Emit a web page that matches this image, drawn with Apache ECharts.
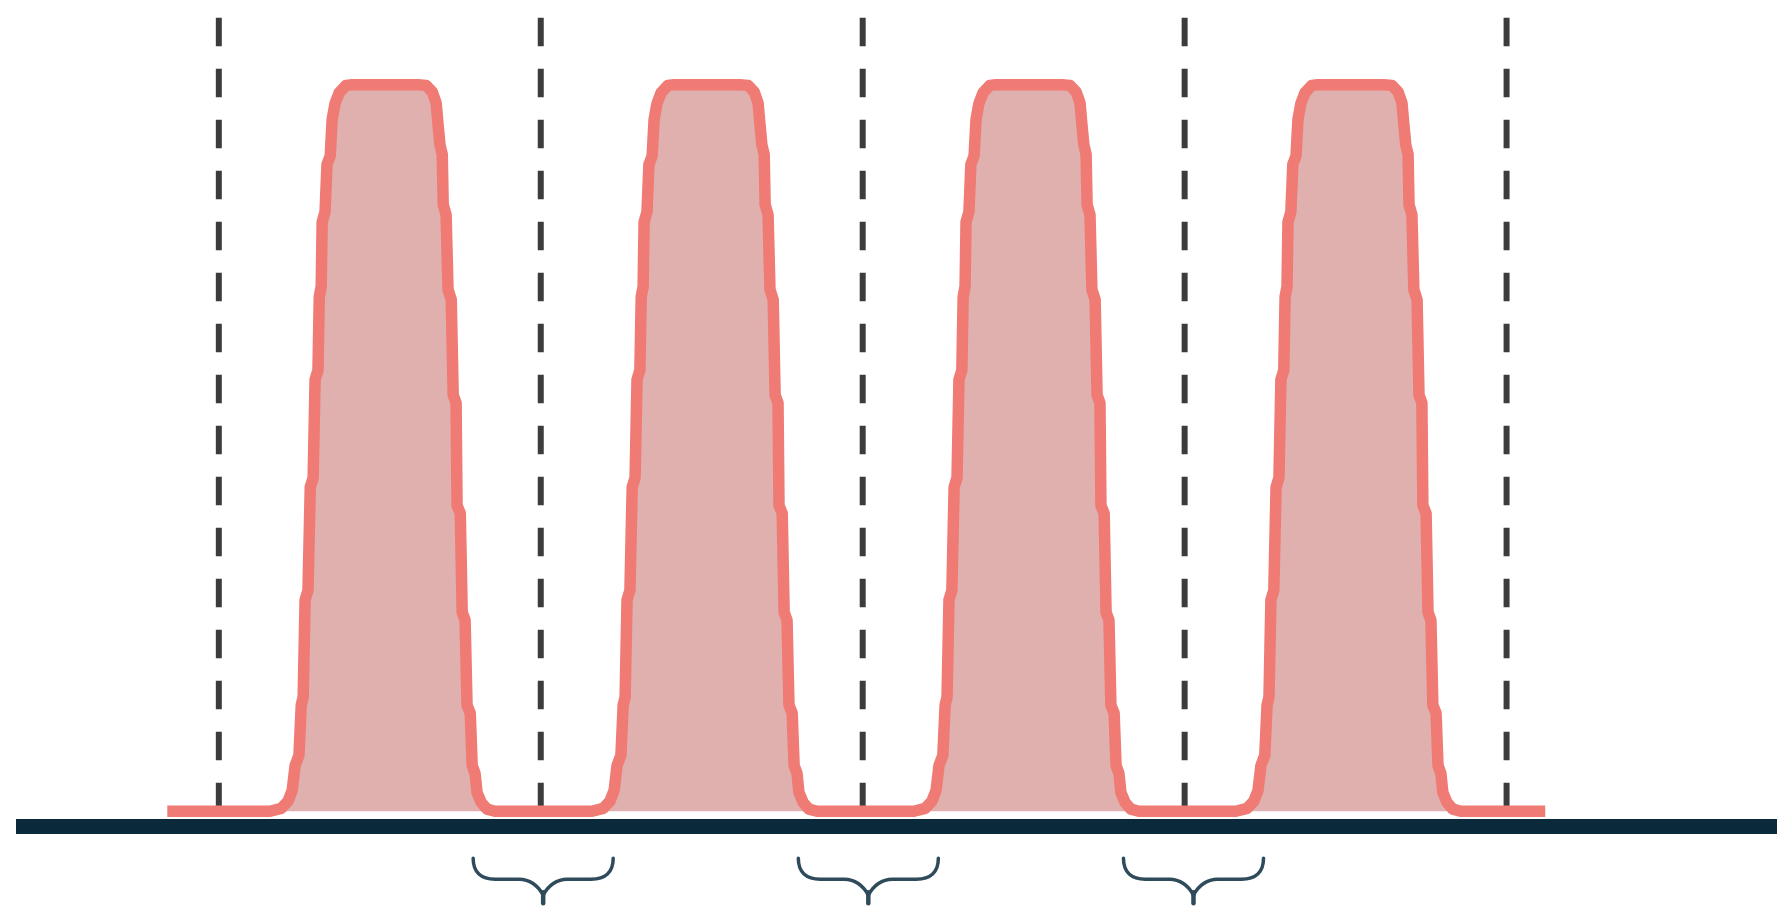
<!DOCTYPE html>
<html>
<head>
<meta charset="utf-8">
<script src="https://cdn.jsdelivr.net/npm/echarts@6/dist/echarts.min.js"></script>
<style>
  html, body { margin: 0; padding: 0; background: #ffffff; }
  #chart { width: 1777px; height: 908px; }
</style>
</head>
<body>
<div id="chart"></div>
<script>
// ---- data (x: time, one period = 100; y: signal level, high = 100) ----
const dividers = [0, 100, 200, 300, 400];
const dividerTop = 109.2;
const braceStart = [79, 180, 281];
const braceEnd = [122.5, 223.5, 324.5];

const signal = [
  [-16, 0],
  // pulse 1
  [15.9, 0], [19.4, 0.4], [21.5, 1.4], [22.8, 2.9], [23.7, 6.3], [24.9, 7.7], [25.6, 14.6], [26.2, 15.7],
  [26.8, 29.1], [27.7, 30.4], [28.4, 44.6], [29.3, 45.9], [29.9, 59.4], [30.8, 60.7], [31.2, 70.8], [31.8, 72.2],
  [32.1, 81.1], [33.0, 82.5], [33.6, 89.0], [34.6, 90.2], [35.2, 95.2], [36.1, 97.4], [37.4, 98.9], [39.5, 99.9], [41.4, 100],
  [61.9, 100], [64.4, 99.9], [66.3, 99.0], [67.5, 97.5], [68.1, 94.5], [68.7, 91.7], [69.4, 90.4], [69.7, 83.5],
  [70.6, 82.1], [71.2, 71.8], [72.2, 70.4], [72.8, 57.3], [73.7, 56.2], [74.0, 42.1], [75.0, 41.0], [75.6, 27.4],
  [76.5, 26.3], [77.1, 14.6], [78.1, 13.5], [78.7, 6.3], [79.6, 5.2], [80.2, 2.6], [81.5, 1.2], [83.3, 0.3], [85.8, 0],
  // pulse 2
  [115.9, 0], [119.4, 0.4], [121.5, 1.4], [122.8, 2.9], [123.7, 6.3], [124.9, 7.7], [125.6, 14.6], [126.2, 15.7],
  [126.8, 29.1], [127.7, 30.4], [128.4, 44.6], [129.3, 45.9], [129.9, 59.4], [130.8, 60.7], [131.2, 70.8], [131.8, 72.2],
  [132.1, 81.1], [133.0, 82.5], [133.6, 89.0], [134.6, 90.2], [135.2, 95.2], [136.1, 97.4], [137.4, 98.9], [139.5, 99.9], [141.4, 100],
  [161.9, 100], [164.4, 99.9], [166.3, 99.0], [167.5, 97.5], [168.1, 94.5], [168.7, 91.7], [169.4, 90.4], [169.7, 83.5],
  [170.6, 82.1], [171.2, 71.8], [172.2, 70.4], [172.8, 57.3], [173.7, 56.2], [174.0, 42.1], [175.0, 41.0], [175.6, 27.4],
  [176.5, 26.3], [177.1, 14.6], [178.1, 13.5], [178.7, 6.3], [179.6, 5.2], [180.2, 2.6], [181.5, 1.2], [183.3, 0.3], [185.8, 0],
  // pulse 3
  [215.9, 0], [219.4, 0.4], [221.5, 1.4], [222.8, 2.9], [223.7, 6.3], [224.9, 7.7], [225.6, 14.6], [226.2, 15.7],
  [226.8, 29.1], [227.7, 30.4], [228.4, 44.6], [229.3, 45.9], [229.9, 59.4], [230.8, 60.7], [231.2, 70.8], [231.8, 72.2],
  [232.1, 81.1], [233.0, 82.5], [233.6, 89.0], [234.6, 90.2], [235.2, 95.2], [236.1, 97.4], [237.4, 98.9], [239.5, 99.9], [241.4, 100],
  [261.9, 100], [264.4, 99.9], [266.3, 99.0], [267.5, 97.5], [268.1, 94.5], [268.7, 91.7], [269.4, 90.4], [269.7, 83.5],
  [270.6, 82.1], [271.2, 71.8], [272.2, 70.4], [272.8, 57.3], [273.7, 56.2], [274.0, 42.1], [275.0, 41.0], [275.6, 27.4],
  [276.5, 26.3], [277.1, 14.6], [278.1, 13.5], [278.7, 6.3], [279.6, 5.2], [280.2, 2.6], [281.5, 1.2], [283.3, 0.3], [285.8, 0],
  // pulse 4
  [315.9, 0], [319.4, 0.4], [321.5, 1.4], [322.8, 2.9], [323.7, 6.3], [324.9, 7.7], [325.6, 14.6], [326.2, 15.7],
  [326.8, 29.1], [327.7, 30.4], [328.4, 44.6], [329.3, 45.9], [329.9, 59.4], [330.8, 60.7], [331.2, 70.8], [331.8, 72.2],
  [332.1, 81.1], [333.0, 82.5], [333.6, 89.0], [334.6, 90.2], [335.2, 95.2], [336.1, 97.4], [337.4, 98.9], [339.5, 99.9], [341.4, 100],
  [361.9, 100], [364.4, 99.9], [366.3, 99.0], [367.5, 97.5], [368.1, 94.5], [368.7, 91.7], [369.4, 90.4], [369.7, 83.5],
  [370.6, 82.1], [371.2, 71.8], [372.2, 70.4], [372.8, 57.3], [373.7, 56.2], [374.0, 42.1], [375.0, 41.0], [375.6, 27.4],
  [376.5, 26.3], [377.1, 14.6], [378.1, 13.5], [378.7, 6.3], [379.6, 5.2], [380.2, 2.6], [381.5, 1.2], [383.3, 0.3], [385.8, 0],
  [412, 0]
];

// ---- chart ----
const chart = echarts.init(document.getElementById('chart'), null, { renderer: 'canvas' });

const dividerSeries = dividers.map(x => ({
  type: 'line',
  data: [[x, dividerTop], [x, 0]],
  showSymbol: false,
  silent: true,
  z: 1,
  lineStyle: { color: '#3c3c3c', width: 6, type: [28.5, 22.5], cap: 'butt' }
}));

const braceSeries = {
  type: 'custom',
  coordinateSystem: 'cartesian2d',
  clip: false,
  silent: true,
  z: 3,
  encode: { x: [0, 1], y: 2 },
  data: braceStart.map((s, i) => [s, braceEnd[i], 0]),
  renderItem: function (params, api) {
    const a = api.coord([api.value(0), 0]);
    const b = api.coord([api.value(1), 0]);
    const xl = a[0], xr = b[0], xm = (xl + xr) / 2;
    const yt = a[1] + 47, yh = a[1] + 68, yj = a[1] + 84, yp = a[1] + 92;
    const d =
      'M' + xl + ' ' + yt +
      ' C' + xl + ' ' + (yt + 14) + ' ' + (xl + 8) + ' ' + yh + ' ' + (xl + 22) + ' ' + yh +
      ' L' + (xm - 24) + ' ' + yh +
      ' C' + (xm - 14) + ' ' + yh + ' ' + (xm - 5) + ' ' + (yh + 6) + ' ' + xm + ' ' + yj +
      ' C' + (xm + 5) + ' ' + (yh + 6) + ' ' + (xm + 14) + ' ' + yh + ' ' + (xm + 24) + ' ' + yh +
      ' L' + (xr - 22) + ' ' + yh +
      ' C' + (xr - 8) + ' ' + yh + ' ' + xr + ' ' + (yt + 14) + ' ' + xr + ' ' + yt;
    return {
      type: 'group',
      children: [
        {
          type: 'path',
          shape: { pathData: d },
          style: { fill: null, stroke: '#2e4a5b', lineWidth: 3.5, lineCap: 'round', lineJoin: 'round' }
        },
        {
          type: 'line',
          shape: { x1: xm, y1: yj - 3, x2: xm, y2: yp },
          style: { stroke: '#2e4a5b', lineWidth: 4.5, lineCap: 'round' }
        }
      ]
    };
  }
};

const option = {
  backgroundColor: '#ffffff',
  animation: false,
  grid: { left: 16, right: 0, top: 12, bottom: 82.2, containLabel: false },
  xAxis: {
    type: 'value',
    min: -63,
    max: 484,
    axisLine: { show: true, onZero: false, lineStyle: { color: '#0a2a3c', width: 15, cap: 'butt' } },
    axisTick: { show: false },
    axisLabel: { show: false },
    splitLine: { show: false }
  },
  yAxis: {
    type: 'value',
    min: -2,
    max: 110,
    show: false,
    splitLine: { show: false }
  },
  series: [
    ...dividerSeries,
    {
      type: 'line',
      data: signal,
      showSymbol: false,
      silent: true,
      z: 2,
      lineStyle: { color: '#ef7b74', width: 11.5, join: 'round', cap: 'butt' },
      areaStyle: { color: '#e0b0ae', opacity: 1 }
    },
    braceSeries
  ]
};

chart.setOption(option);
</script>
</body>
</html>
